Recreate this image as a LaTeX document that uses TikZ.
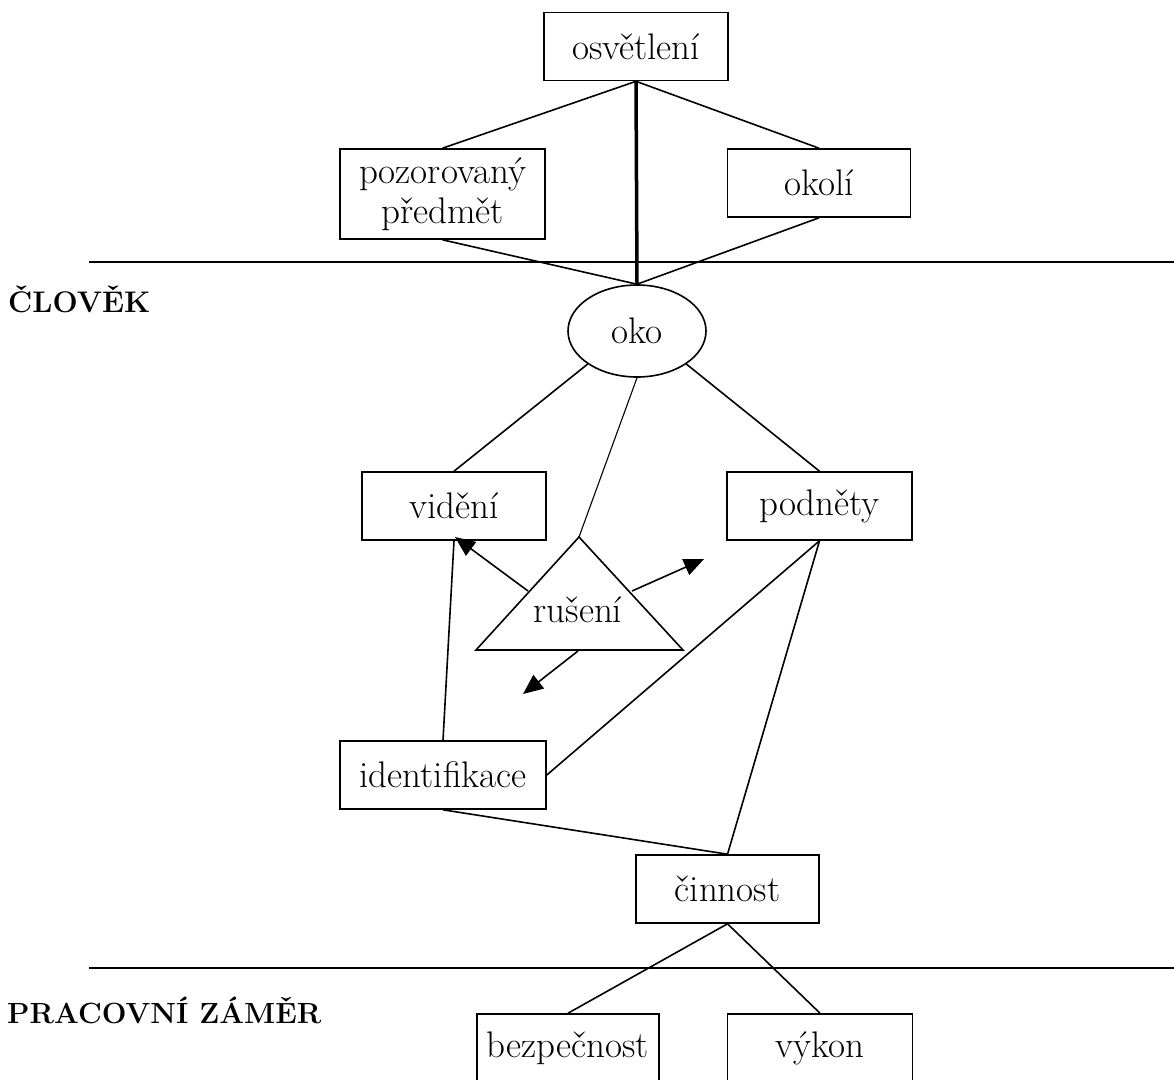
\documentclass[tikz,border=0pt]{standalone}
\usetikzlibrary{arrows.meta,shapes.geometric}
\begin{document}
\begin{tikzpicture}[x=1pt,y=-1pt,
  box/.style={draw, line width=1.6pt, rectangle, minimum width=184pt, minimum height=68pt, inner sep=0pt, font=\fontsize{37}{40}\selectfont},
  conn/.style={line width=1.6pt},
  heavy/.style={line width=3.5pt},
  fine/.style={line width=1.1pt},
  sect/.style={line width=1.8pt},
  title/.style={font=\fontsize{29.8}{34}\selectfont\bfseries, anchor=base west, inner sep=0pt},
  arr/.style={line width=1.6pt, -{Triangle[length=20pt,width=17pt]}}]
\useasboundingbox (0,0) rectangle (1174,1079);

% section lines
\coordinate (s1a) at (89,262);
\coordinate (s1b) at (1174,262);
\coordinate (s2a) at (89,968);
\coordinate (s2b) at (1174,968);
\draw[sect] (s1a) -- (s1b);
\draw[sect] (s2a) -- (s2b);
\node[title] (clovek) at (8,312) {ČLOVĚK};
\node[title, font=\fontsize{29.2}{34}\selectfont\bfseries] (zamer) at (7,1023) {PRACOVNÍ ZÁMĚR};

% nodes
\node[box] (osv) at (636,46.5) {osvětlení};
\node[box, minimum width=205pt, minimum height=90pt, align=center] (poz) at (442.5,194) {pozorovaný\\předmět};
\node[box, minimum width=183pt] (okl) at (819,183) {okolí};
\node[draw, ellipse, line width=1.6pt, minimum width=138pt, minimum height=92pt, inner sep=0pt, font=\fontsize{37}{40}\selectfont] (oko) at (637,331) {oko};
\node[box] (vid) at (454,506) {vidění};
\node[box, minimum width=185pt] (pod) at (819.5,506) {podněty};
\node[box, minimum width=206pt, minimum height=68pt] (ide) at (443,775) {identifikace};
\node[box, minimum width=183pt] (cin) at (727.5,889) {činnost};
\node[box, minimum width=182pt] (bez) at (568,1048) {bezpečnost};
\node[box, minimum width=185pt] (vyk) at (820,1048) {výkon};

% triangle
\coordinate (tA) at (579,537);
\coordinate (tL) at (476,650);
\coordinate (tR) at (683,650);
\draw[line width=1.6pt, line join=miter] (tA) -- (tL) -- (tR) -- cycle;
\node[inner sep=0pt, font=\fontsize{37}{40}\selectfont] (rus) at (578,610) {rušení};

% connectors
\draw[conn] (osv.south) -- (poz.north);
\draw[conn] (osv.south) -- (okl.north);
\draw[heavy] (osv.south) -- (oko.north);
\draw[conn] (poz.south) -- (oko.north);
\draw[conn] (okl.south) -- (oko.north);
\draw[conn] (oko.south west) -- (vid.north);
\draw[fine] (oko.south) -- (tA);
\draw[conn] (oko.south east) -- (pod.north);
\draw[conn] (vid.south) -- (ide.north);
\draw[conn] (pod.south) -- (ide.east);
\draw[conn] (pod.south) -- (cin.north);
\draw[conn] (ide.south) -- (cin.north);
\draw[conn] (cin.south) -- (bez.north);
\draw[conn] (cin.south) -- (vyk.north);

% arrows from rušení
\coordinate (aL0) at (528,591);
\coordinate (aL1) at (455,537);
\coordinate (aR0) at (632,591);
\coordinate (aR1) at (704,559);
\coordinate (aB0) at (578,651);
\coordinate (aB1) at (523,694);
\draw[arr] (aL0) -- (aL1);
\draw[arr] (aR0) -- (aR1);
\draw[arr] (aB0) -- (aB1);
\end{tikzpicture}
\end{document}
